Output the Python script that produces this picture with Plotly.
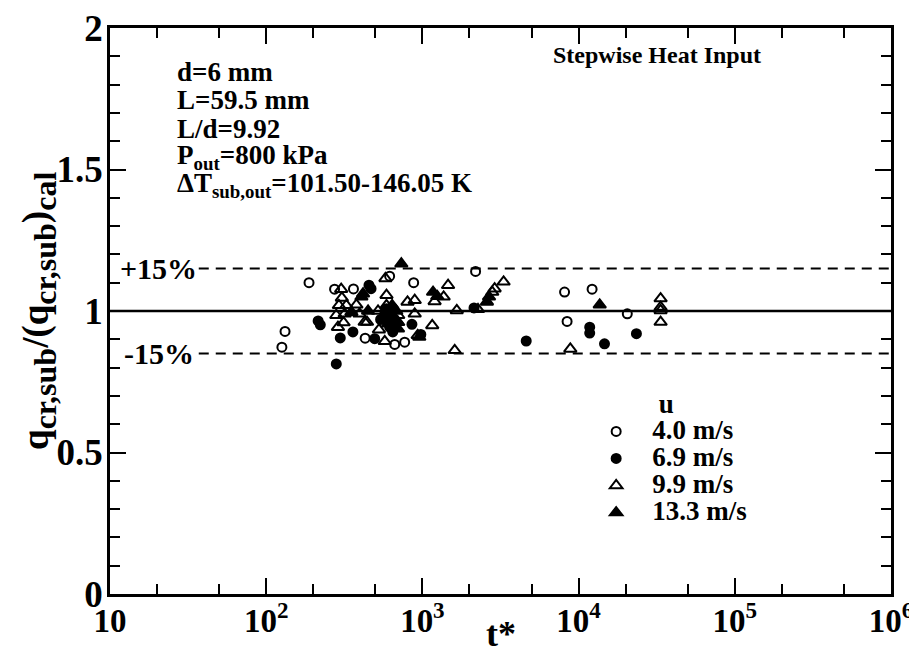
import plotly.graph_objects as go

# ---- data ----
t_u40 = [126, 132, 188, 274, 362, 430, 617, 665, 770, 879, 2190, 8130, 8440, 12200, 20500]
r_u40 = [0.872, 0.928, 1.100, 1.077, 1.078, 0.904, 1.123, 0.882, 0.890, 1.100, 1.140, 1.067, 0.963, 1.077, 0.990]

t_u69 = [215, 222, 281, 298, 359, 455, 469, 495, 574, 589, 617, 646, 540, 600, 857, 977, 2140, 4620, 11780, 11780, 14650, 23450]
r_u69 = [0.965, 0.951, 0.813, 0.905, 0.926, 1.091, 1.079, 0.902, 0.990, 1.008, 0.943, 0.926, 0.970, 0.960, 0.953, 0.917, 1.011, 0.894, 0.943, 0.922, 0.884, 0.920]

t_u99 = [302, 305, 292, 281, 326, 318, 288, 313, 378, 396, 427, 442, 527, 574, 580, 589, 589,
         520, 600, 650, 700, 803, 893, 893, 933, 955, 1156, 1197, 1368, 1460, 1610, 1660, 2270,
         2800, 2900, 3310, 8850, 33500, 33500, 33500, 33500]
r_u99 = [1.077, 1.046, 1.020, 0.985, 1.020, 0.990, 0.943, 0.959, 1.022, 0.990, 0.961, 0.961, 0.934, 0.893, 1.115, 1.056, 1.020,
         1.000, 0.975, 1.010, 0.985, 1.032, 1.038, 0.990, 0.914, 0.908, 0.949, 1.034, 1.050, 1.091, 0.861, 1.002, 1.006,
         1.067, 1.079, 1.103, 0.866, 1.044, 1.014, 1.002, 0.961]

t_u133 = [351, 407, 417, 449, 603, 620, 631, 640, 660, 680, 681, 698, 700, 733, 1170, 1245, 2590, 2670, 13650]
r_u133 = [0.996, 1.050, 1.061, 1.000, 0.955, 0.975, 0.990, 1.020, 0.950, 1.000, 0.967, 0.937, 0.960, 1.167, 1.067, 1.052, 1.032, 1.050, 1.022]

x_tickvals = [10, 100, 1000, 10000, 100000, 1000000]
x_ticktext = ["10", "10<sup>2</sup>", "10<sup>3</sup>", "10<sup>4</sup>", "10<sup>5</sup>", "10<sup>6</sup>"]
y_tickvals = [0, 0.5, 1, 1.5, 2]
y_ticktext = ["0", "0.5", "1", "1.5", "2"]

FONT = "Liberation Serif"
LEG_TEXT = 27

fig = go.Figure()

def add(t, r, name, symbol, size, rank):
    fig.add_trace(go.Scatter(
        x=t, y=r, mode="markers", legendrank=rank,
        name="<b><span style='font-size:%dpx'>%s</span></b>" % (LEG_TEXT, name),
        marker=dict(symbol=symbol, size=size, color="black",
                    line=dict(color="black", width=2)),
    ))

add(t_u40, r_u40, "4.0 m/s", "circle-open", 9, 1)
add(t_u99, r_u99, "9.9 m/s", "triangle-up-open", 11, 3)
add(t_u69, r_u69, "6.9 m/s", "circle", 9, 2)
add(t_u133, r_u133, "13.3 m/s", "triangle-up", 11, 4)

# reference lines
fig.add_shape(type="line", xref="x", yref="y", x0=10, x1=1e6, y0=1, y1=1,
              line=dict(color="black", width=2.5), layer="below")
for yv in (1.15, 0.85):
    fig.add_shape(type="line", xref="x", yref="y", x0=37, x1=1e6, y0=yv, y1=yv,
                  line=dict(color="black", width=2, dash="10px,7px"), layer="below")

fig.add_annotation(x=0.010, xref="paper", y=1.15, yref="y", text="<b>+15%</b>",
                   showarrow=False, xanchor="left", yanchor="middle",
                   font=dict(family=FONT, size=30, color="black"))
fig.add_annotation(x=0.016, xref="paper", y=0.85, yref="y", text="<b>-15%</b>",
                   showarrow=False, xanchor="left", yanchor="middle",
                   font=dict(family=FONT, size=30, color="black"))

info = ["d=6 mm", "L=59.5 mm", "L/d=9.92", "P<sub>out</sub>=800 kPa",
        "ΔT<sub>sub,out</sub>=101.50-146.05 K"]
for i, line in enumerate(info):
    fig.add_annotation(x=0.083, xref="paper", y=1 - (44 + 28.3 * i) / 566, yref="paper",
                       text="<b>" + line + "</b>", showarrow=False,
                       xanchor="left", yanchor="middle",
                       font=dict(family=FONT, size=27, color="black"))

fig.add_annotation(x=0.70, xref="paper", y=1 - 27 / 566, yref="paper",
                   text="<b>Stepwise Heat Input</b>", showarrow=False,
                   xanchor="center", yanchor="middle",
                   font=dict(family=FONT, size=24, color="black"))

# axis titles
fig.add_annotation(x=0.5, xref="paper", y=-0.0705, yref="paper",
                   text="<b>t*</b>", showarrow=False,
                   xanchor="center", yanchor="middle",
                   font=dict(family=FONT, size=36, color="black"))
sub = "<sub><span style='font-size:32px'>%s</span></sub>"
fig.add_annotation(x=-0.091, xref="paper", y=0.5, yref="paper",
                   text="<b>q" + sub % "cr,sub" + "/(q" + sub % "cr,sub" + ")" + sub % "cal" + "</b>",
                   textangle=-90, showarrow=False,
                   xanchor="center", yanchor="middle",
                   font=dict(family=FONT, size=37, color="black"))

axis_common = dict(
    showline=True, linecolor="black", linewidth=2.5, mirror="allticks",
    ticks="inside", ticklen=16, tickwidth=2, tickcolor="black",
    showgrid=False, zeroline=False, automargin=False,
    ticklabeloverflow="allow",
)

fig.update_xaxes(type="log", range=[1, 6], tickvals=x_tickvals,
                 ticktext=["<b>" + s + "</b>" for s in x_ticktext],
                 tickfont=dict(family=FONT, size=33, color="black"),
                 ticklabelstandoff=-4,
                 minor=dict(ticks="inside", ticklen=10, tickwidth=2, tickcolor="black", showgrid=False),
                 **axis_common)
fig.update_yaxes(range=[0, 2], tickvals=y_tickvals,
                 ticktext=["<b>" + s + "</b>" for s in y_ticktext],
                 tickfont=dict(family=FONT, size=37, color="black"),
                 ticklabelstandoff=-3,
                 minor=dict(ticks="inside", ticklen=10, tickwidth=2, tickcolor="black",
                            dtick=0.1, showgrid=False),
                 **axis_common)

fig.update_layout(
    width=917, height=655,
    margin=dict(l=102, r=34, t=20, b=69),
    paper_bgcolor="white", plot_bgcolor="white",
    showlegend=True,
    legend=dict(x=0.602, y=0.382, xanchor="left", yanchor="top",
                bgcolor="rgba(0,0,0,0)", borderwidth=0,
                font=dict(family=FONT, size=18.5, color="black"),
                title=dict(text="<b>u</b>", side="top center",
                           font=dict(family=FONT, size=LEG_TEXT, color="black")),
                itemwidth=62, tracegroupgap=0),
)

fig.write_html("out.html")
